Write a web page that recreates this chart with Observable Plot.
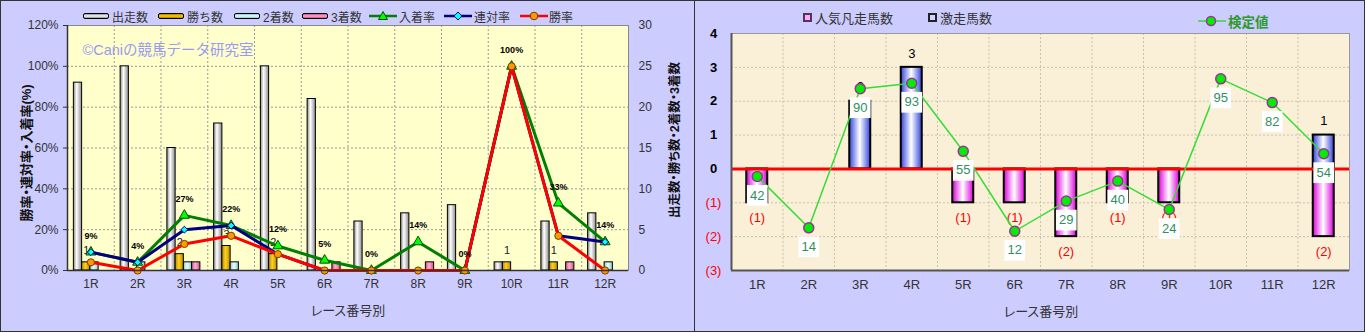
<!DOCTYPE html>
<html><head><meta charset="utf-8">
<script src="https://cdn.jsdelivr.net/npm/d3@7"></script>
<script src="https://cdn.jsdelivr.net/npm/@observablehq/plot@0.6"></script>
<style>
body{margin:0;background:#fff;}
#wrap{position:relative;width:1366px;height:333px;background:#fff;font-family:"Liberation Sans","Noto Sans CJK JP",sans-serif;overflow:hidden;}
.panel{position:absolute;top:0;height:332px;border:1px solid #333;box-sizing:border-box;background:#ccccff;}
.chart{position:absolute;top:0;}
.lg{position:absolute;display:flex;align-items:center;height:16px;font-size:12px;color:#333;white-space:nowrap;}
.sw{display:inline-block;width:24px;height:4px;border:1px solid #000;border-radius:2px;margin-right:3px;}
.sq{display:inline-block;width:5px;height:5px;border:2px solid #333;margin-right:3px;}
.tt{position:absolute;white-space:nowrap;transform:translate(-50%,-50%);color:#333;font-feature-settings:"palt";}
.rot{transform:translate(-50%,-50%) rotate(-90deg);font-weight:bold;color:#111;font-size:13px;}
</style>
</head><body>
<div id="wrap">
  <div class="panel" style="left:0;width:695px"></div>
  <div class="panel" style="left:694px;width:671px"></div>
  <div id="c1" class="chart" style="left:0"></div>
  <div id="c2" class="chart" style="left:695px"></div>

  <div class="lg" style="left:83px;top:8px"><span class="sw" style="background:linear-gradient(#8a8a8a,#fff 50%,#8a8a8a)"></span>出走数</div>
  <div class="lg" style="left:158px;top:8px"><span class="sw" style="background:linear-gradient(#b08400,#ffd000 50%,#b08400)"></span>勝ち数</div>
  <div class="lg" style="left:234px;top:8px"><span class="sw" style="background:linear-gradient(#88cccc,#eaffff 50%,#88cccc)"></span>2着数</div>
  <div class="lg" style="left:302px;top:8px"><span class="sw" style="background:linear-gradient(#cc5588,#ffa8d0 50%,#cc5588)"></span>3着数</div>
  <div class="lg" style="left:369px;top:8px"><svg width="28" height="12" style="margin-right:2px"><line x1="0" x2="28" y1="6" y2="6" stroke="#008000" stroke-width="2.5"/><path d="M14,1.5 L18.5,9.5 L9.5,9.5 Z" fill="#00ff00" stroke="#005500"/></svg>入着率</div>
  <div class="lg" style="left:444px;top:8px"><svg width="28" height="12" style="margin-right:2px"><line x1="0" x2="28" y1="6" y2="6" stroke="#000080" stroke-width="2.5"/><path d="M14,2 L18,6 L14,10 L10,6 Z" fill="#00ffff" stroke="#000080"/></svg>連対率</div>
  <div class="lg" style="left:520px;top:8px"><svg width="28" height="12" style="margin-right:1px"><line x1="0" x2="28" y1="6" y2="6" stroke="#ff0000" stroke-width="2.5"/><circle cx="14" cy="6" r="3.8" fill="#ff9900" stroke="#7a3d00"/></svg>勝率</div>

  <div class="lg" style="left:803px;top:9px;font-size:13px"><span class="sq" style="background:#ffaaff;border-color:#553355"></span>人気凡走馬数</div>
  <div class="lg" style="left:928px;top:9px;font-size:13px"><span class="sq" style="background:#ccd4ff;border-color:#222"></span>激走馬数</div>
  <div class="lg" style="left:1198px;top:13px;font-size:13.5px;font-weight:bold;color:#2e9a2e"><svg width="28" height="12" style="margin-right:2px"><line x1="0" x2="28" y1="6" y2="6" stroke="#33dd33" stroke-width="1.5"/><circle cx="13" cy="6" r="4.5" fill="#00ee00" stroke="#993399" stroke-width="1.5"/></svg>検定値</div>

  <div class="tt rot" style="left:25px;top:153px">勝率・連対率・入着率(%)</div>
  <div class="tt rot" style="left:673px;top:140px;font-size:12.5px">出走数・勝ち数・2着数・3着数</div>
  <div class="tt" style="left:348px;top:309px;font-size:13px">レース番号別</div>
  <div class="tt" style="left:1041px;top:310px;font-size:13px">レース番号別</div>
</div>
<script>
// ---------- data (left chart) ----------
const races = ["1R","2R","3R","4R","5R","6R","7R","8R","9R","10R","11R","12R"];
const starters = [23,25,15,18,25,21,6,7,8,1,6,7];
const wins     = [1,0,2,3,2,0,0,0,0,1,1,0];
const seconds  = [1,1,1,1,0,0,0,0,0,0,0,1];
const thirds   = [0,0,1,0,0,1,0,1,0,0,1,0];
const winRate    = [4,0,13,17,8,0,0,0,0,100,17,0];
const rentaiRate = [9,4,20,22,8,0,0,0,0,100,17,14];
const placeRate  = [9,4,27,22,12,5,0,14,0,100,33,14];
const pctTicks   = [0,20,40,60,80,100,120];
const countTicks = [0,5,10,15,20,25,30];
const watermark = "©Caniの競馬データ研究室";

// ---------- data (right chart) ----------
const gekisou = [0,0,2,3,0,0,0,0,0,0,0,1];     // 激走馬数
const bonsou  = [1,0,0,0,1,1,2,1,1,0,0,2];     // 人気凡走馬数
const kenteiValue = [42,14,90,93,55,12,29,40,24,95,82,54];
const kenteiPos   = [-0.22,-1.74,2.37,2.53,0.52,-1.84,-0.95,-0.36,-1.2,2.66,1.96,0.45];
const rightTicks  = [4,3,2,1,0,-1,-2,-3];
const rightTickLabels = ["4","3","2","1","0","(1)","(2)","(3)"];

const FONT = "'Liberation Sans','Noto Sans CJK JP',sans-serif";
const PCT_PER_COUNT = 100 / 25; // right axis 25 ↔ left axis 100%

function addDefs(svg, html){
  const defs = document.createElementNS("http://www.w3.org/2000/svg","defs");
  defs.innerHTML = html;
  svg.insertBefore(defs, svg.firstChild);
}
function grad(id, edge, mid, pos){
  return `<linearGradient id="${id}" x1="0" x2="1" y1="0" y2="0">
    <stop offset="0" stop-color="${edge}"/><stop offset="${pos||0.45}" stop-color="${mid}"/><stop offset="1" stop-color="${edge}"/></linearGradient>`;
}

// ---------- left chart ----------
const rows = races.map((r,i)=>({race:r, start:starters[i], win:wins[i], second:seconds[i], third:thirds[i],
  wr:winRate[i], rr:rentaiRate[i], pr:placeRate[i]}));
const W1 = 694, ML1 = 67, MR1 = 66;
const bw1 = (W1 - ML1 - MR1) / races.length;
const subW = 8.25, groupStart = bw1/2 - 17;
const ins = k => ({insetLeft: groupStart + subW*k, insetRight: bw1 - (groupStart + subW*(k+1))});
const barStyle = {stroke:"#000", strokeWidth:1};

const left = Plot.plot({
  width: W1, height: 333, marginLeft: ML1, marginRight: MR1, marginTop: 25, marginBottom: 63,
  style: {background:"transparent", fontFamily: FONT, fontSize:"12px", color:"#333", overflow:"visible"},
  x: {type:"band", domain: races, padding: 0, round: false},
  y: {domain:[0,120]},
  marks: [
    Plot.frame({fill:"#ffffcc"}),
    Plot.ruleY(pctTicks.slice(1,-1), {stroke:"#999", strokeDasharray:"2,2"}),
    Plot.ruleX(races.slice(1), {x:d=>d, dx:-bw1/2, stroke:"#999", strokeDasharray:"2,2"}),
    Plot.barY(rows.filter(d=>d.start>0), {x:"race", y:d=>d.start*PCT_PER_COUNT, fill:"url(#gWhite)", ...barStyle, ...ins(0)}),
    Plot.barY(rows.filter(d=>d.win>0), {x:"race", y:d=>d.win*PCT_PER_COUNT, fill:"url(#gGold)", ...barStyle, ...ins(1)}),
    Plot.barY(rows.filter(d=>d.second>0), {x:"race", y:d=>d.second*PCT_PER_COUNT, fill:"url(#gCyan)", ...barStyle, ...ins(2)}),
    Plot.barY(rows.filter(d=>d.third>0), {x:"race", y:d=>d.third*PCT_PER_COUNT, fill:"url(#gPinkL)", ...barStyle, ...ins(3)}),
    Plot.text(rows.filter(d=>d.win>0), {x:"race", y:d=>d.win*PCT_PER_COUNT, text:d=>String(d.win), dx: groupStart + subW*1.5 - bw1/2, dy:-12, fontSize:11, fill:"#222"}),
    Plot.line(rows, {x:"race", y:"pr", stroke:"#008000", strokeWidth:3}),
    Plot.dot(rows, {x:"race", y:"pr", symbol:"triangle", r:3.7, fill:"#00ff00", stroke:"#005500", strokeWidth:1}),
    Plot.line(rows, {x:"race", y:"rr", stroke:"#000080", strokeWidth:3}),
    Plot.dot(rows, {x:"race", y:"rr", symbol:"diamond2", r:3.1, fill:"#00ffff", stroke:"#000080", strokeWidth:1}),
    Plot.line(rows, {x:"race", y:"wr", stroke:"#ff0000", strokeWidth:3}),
    Plot.dot(rows, {x:"race", y:"wr", symbol:"circle", r:3.6, fill:"#ff9900", stroke:"#7a3d00", strokeWidth:1}),
    Plot.text(rows, {x:"race", y:"pr", text:d=>d.pr+"%", dy:-16.5, fontSize:9, fontWeight:"bold", fill:"#000"}),
    Plot.text([watermark], {frameAnchor:"top-left", text:d=>d, dx:15, dy:25, lineAnchor:"middle", fontSize:14.5, fill:"#9a9af0"}),
    Plot.axisY(pctTicks, {anchor:"left", tickFormat:d=>d+"%", tickSize:4, tickPadding:5, fontSize:12, label:null}),
    Plot.axisY(countTicks.map(c=>c*PCT_PER_COUNT), {anchor:"right", tickFormat:d=>String(d/PCT_PER_COUNT), tickSize:0, tickPadding:10, fontSize:12, label:null}),
    Plot.axisX({tickSize:0, tickPadding:9, fontSize:12, label:null}),
    Plot.frame({stroke:"#888"}),
    Plot.ruleY([0], {stroke:"#333", strokeWidth:1.5}),
    Plot.ruleX([races[0]], {x:d=>d, dx:-bw1/2, stroke:"#333", strokeWidth:1.5})
  ]
});
addDefs(left,
  grad("gWhite","#8a8a8a","#ffffff",0.4) + grad("gGold","#b88a00","#ffd21f",0.45) +
  grad("gCyan","#88cccc","#eaffff",0.45) + grad("gPinkL","#cc5588","#ffb0d8",0.45));
document.getElementById("c1").appendChild(left);

// ---------- right chart ----------
const rows2 = races.map((r,i)=>({race:r, geki:gekisou[i], bon:bonsou[i], kv:kenteiValue[i], kp:kenteiPos[i]}));
const W2 = 669, ML2 = 36, MR2 = 15;
const bw2 = (W2 - ML2 - MR2) / races.length;
const barInset = (bw2 - 21) / 2;

const right = Plot.plot({
  width: W2, height: 333, marginLeft: ML2, marginRight: MR2, marginTop: 33, marginBottom: 63,
  style: {background:"transparent", fontFamily: FONT, fontSize:"13px", color:"#333", overflow:"visible"},
  x: {type:"band", domain: races, padding: 0, round: false},
  y: {domain:[-3,4]},
  marks: [
    Plot.frame({fill:"#faf0d8"}),
    Plot.ruleY(rightTicks.filter(t=>t!==4 && t!==-3 && t!==0), {stroke:"#c8c0b0", strokeDasharray:"2,2"}),
    Plot.ruleX(races.slice(1), {x:d=>d, dx:-bw2/2, stroke:"#c8c0b0", strokeDasharray:"2,2"}),
    Plot.barY(rows2.filter(d=>d.geki>0), {x:"race", y:"geki", fill:"url(#gBlue)", stroke:"#000", strokeWidth:2, insetLeft:barInset, insetRight:barInset}),
    Plot.barY(rows2.filter(d=>d.bon>0), {x:"race", y:d=>-d.bon, fill:"url(#gMag)", stroke:"#000", strokeWidth:2, insetLeft:barInset, insetRight:barInset}),
    Plot.ruleY([0], {stroke:"#ff0000", strokeWidth:3}),
    Plot.text(rows2.filter(d=>d.bon>0), {x:"race", y:d=>-d.bon, text:d=>`(${d.bon})`, dy:15, fill:"#ff0000", fontSize:13}),
    Plot.text(rows2.filter(d=>d.geki>0), {x:"race", y:"geki", text:d=>String(d.geki), dy:-14, fill:"#000", fontSize:13}),
    Plot.line(rows2, {x:"race", y:"kp", stroke:"#33dd33", strokeWidth:1.5}),
    Plot.dot(rows2, {x:"race", y:"kp", symbol:"square", r:11.7, dy:19, fill:"#ffffff", stroke:"none"}),
    Plot.text(rows2, {x:"race", y:"kp", text:d=>String(d.kv), dy:19, fill:"#2f8f5f", fontSize:13}),
    Plot.dot(rows2, {x:"race", y:"kp", r:5, fill:"#00ee00", stroke:"#993399", strokeWidth:1.5}),
    Plot.axisY(rightTicks.filter(t=>t>=0), {anchor:"left", tickSize:0, tickPadding:18, textAnchor:"middle", tickFormat:d=>rightTickLabels[rightTicks.indexOf(d)], fill:"#000", fontWeight:"bold", fontSize:13, label:null}),
    Plot.axisY(rightTicks.filter(t=>t<0), {anchor:"left", tickSize:0, tickPadding:18, textAnchor:"middle", tickFormat:d=>rightTickLabels[rightTicks.indexOf(d)], fill:"#ff0000", fontSize:13, label:null}),
    Plot.axisX({tickSize:0, tickPadding:9, fontSize:13, label:null}),
    Plot.frame({stroke:"#999"}),
    Plot.ruleY([-3], {stroke:"#555", strokeWidth:2}),
    Plot.ruleX([races[0]], {x:d=>d, dx:-bw2/2, stroke:"#555", strokeWidth:2})
  ]
});
addDefs(right, grad("gBlue","#3344dd","#ffffff",0.5) + grad("gMag","#dd00dd","#ffffff",0.5));
document.getElementById("c2").appendChild(right);
</script>
</body></html>
